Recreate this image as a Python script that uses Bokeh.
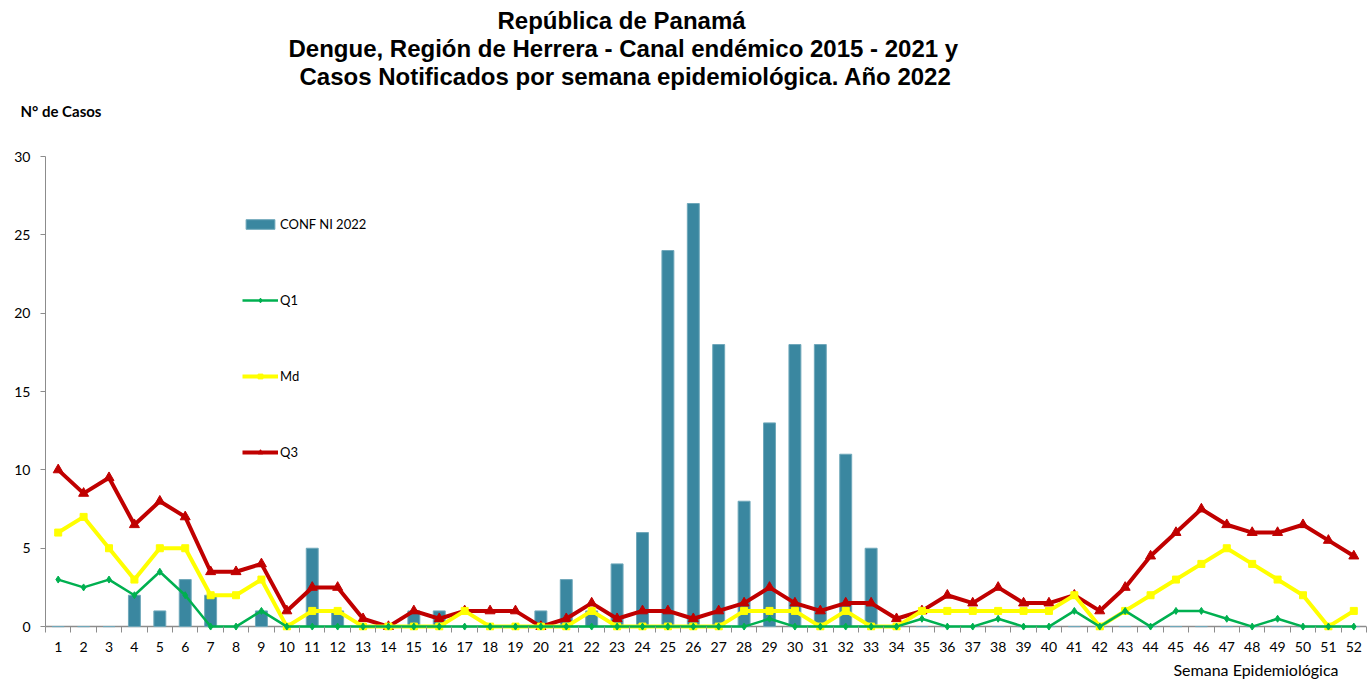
from bokeh.plotting import figure
from bokeh.models import (Range1d, FixedTicker, Legend, LegendItem, Title, Span)
from bokeh.embed import file_html
from bokeh.resources import INLINE

weeks = list(range(1, 53))
conf_2022 = [0, 0, 0, 2, 1, 3, 2, 0, 1, 0, 5, 1, 0, 0, 1, 1, 0, 0, 0, 1,
             3, 1, 4, 6, 24, 27, 18, 8, 13, 18, 18, 11, 5, 0, 0, 0, 0, 0, 0, 0,
             0, 0, 0, 0, 0, 0, 0, 0, 0, 0, 0, 0]
q1 = [3, 2.5, 3, 2, 3.5, 2, 0, 0, 1, 0, 0, 0, 0, 0, 0, 0, 0, 0, 0, 0,
      0, 0, 0, 0, 0, 0, 0, 0, 0.5, 0, 0, 0, 0, 0, 0.5, 0, 0, 0.5, 0, 0,
      1, 0, 1, 0, 1, 1, 0.5, 0, 0.5, 0, 0, 0]
md = [6, 7, 5, 3, 5, 5, 2, 2, 3, 0, 1, 1, 0, 0, 0, 0, 1, 0, 0, 0,
      0, 1, 0, 0, 0, 0, 0, 1, 1, 1, 0, 1, 0, 0, 1, 1, 1, 1, 1, 1,
      2, 0, 1, 2, 3, 4, 5, 4, 3, 2, 0, 1]
q3 = [10, 8.5, 9.5, 6.5, 8, 7, 3.5, 3.5, 4, 1, 2.5, 2.5, 0.5, 0, 1, 0.5, 1, 1, 1, 0,
      0.5, 1.5, 0.5, 1, 1, 0.5, 1, 1.5, 2.5, 1.5, 1, 1.5, 1.5, 0.5, 1, 2, 1.5, 2.5, 1.5, 1.5,
      2, 1, 2.5, 4.5, 6, 7.5, 6.5, 6, 6, 6.5, 5.5, 4.5]
y_ticks = [0, 5, 10, 15, 20, 25, 30]

title_lines = ["República de Panamá",
               "Dengue, Región de Herrera - Canal endémico 2015 - 2021 y",
               "Casos Notificados por semana epidemiológica. Año 2022"]
y_title = "N° de Casos"
x_title = "Semana Epidemiológica"

FONT = "Lato"
AXIS_GRAY = "#8C8C8C"

p = figure(width=1368, height=684, output_backend="svg", toolbar_location=None,
           x_range=Range1d(0.5, 52.5), y_range=Range1d(-0.25, 30),
           min_border_left=45, min_border_right=2, min_border_top=156,
           min_border_bottom=54)
p.outline_line_color = None
p.xgrid.visible = False
p.ygrid.visible = False
p.background_fill_color = "white"
p.border_fill_color = "white"

# baseline (x axis line at zero)
p.add_layout(Span(location=0, dimension="width", line_color=AXIS_GRAY,
                  line_width=1.5, level="underlay"))

bars = p.vbar(x=weeks, top=conf_2022, width=0.47, fill_color="#3A87A0",
              line_color="#6FA8BA", line_width=1)

r_q3 = p.line(weeks, q3, line_color="#C00000", line_width=4)
s_q3 = p.scatter(weeks, q3, marker="triangle", size=10, fill_color="#C00000",
                 line_color="#C00000")
r_md = p.line(weeks, md, line_color="#FFFF00", line_width=4)
s_md = p.scatter(weeks, md, marker="square", size=7, fill_color="#FFFF00",
                 line_color="#FFFF00")
r_q1 = p.line(weeks, q1, line_color="#00B050", line_width=2.5)
s_q1 = p.scatter(weeks, q1, marker="diamond", size=7, fill_color="#00B050",
                 line_color="#00B050")

# x axis
p.xaxis.ticker = FixedTicker(ticks=weeks, minor_ticks=[w - 0.5 for w in weeks] + [52.5])
p.xaxis.axis_line_color = None
p.xaxis.major_tick_out = 0
p.xaxis.major_tick_in = 0
p.xaxis.minor_tick_out = 2
p.xaxis.minor_tick_in = 4
p.xaxis.minor_tick_line_color = AXIS_GRAY
p.xaxis.major_label_text_font = FONT
p.xaxis.major_label_text_font_size = "14px"
p.xaxis.major_label_text_color = "black"
p.xaxis.major_label_standoff = 9

# y axis
p.yaxis.ticker = FixedTicker(ticks=y_ticks)
p.yaxis.bounds = (0, 30)
p.yaxis.major_tick_out = 5
p.yaxis.major_tick_in = 0
p.yaxis.minor_tick_line_color = None
p.yaxis.axis_line_color = AXIS_GRAY
p.yaxis.major_tick_line_color = AXIS_GRAY
p.yaxis.major_label_text_font = FONT
p.yaxis.major_label_text_font_size = "14px"
p.yaxis.major_label_text_color = "black"
p.yaxis.major_label_standoff = 10

legend = Legend(items=[
    LegendItem(label="CONF NI 2022", renderers=[bars]),
    LegendItem(label="Q1", renderers=[r_q1, s_q1]),
    LegendItem(label="Md", renderers=[r_md, s_md]),
    LegendItem(label="Q3", renderers=[r_q3, s_q3]),
], location=(197, 168), orientation="vertical")
legend.border_line_color = None
legend.background_fill_alpha = 0
legend.padding = 0
legend.margin = 0
legend.spacing = 56
legend.glyph_width = 36
legend.glyph_height = 12
legend.label_height = 20
legend.label_standoff = 2
legend.label_text_font = FONT
legend.label_text_font_size = "13px"
legend.label_text_color = "black"
p.add_layout(legend, "center")

# "above" stack, closest to the frame first
p.add_layout(Title(text=" ", text_font_size="10px", standoff=14), "above")
p.add_layout(Title(text=y_title, align="left", offset=-25, text_font=FONT,
                   text_font_style="bold", text_font_size="15px", standoff=20,
                   text_color="black"), "above")
for txt, off in zip(reversed(title_lines), [254, 243, 452]):
    p.add_layout(Title(text=txt, align="left", offset=off, text_font="Liberation Sans",
                       text_font_style="bold", text_font_size="24px", standoff=-1,
                       text_color="black"), "above")

p.add_layout(Title(text=x_title, align="right", offset=28, text_font=FONT,
                   text_font_style="normal", text_font_size="16px", standoff=6,
                   vertical_align="bottom", text_color="black"), "below")

open("out.html", "w").write(file_html(p, INLINE))
